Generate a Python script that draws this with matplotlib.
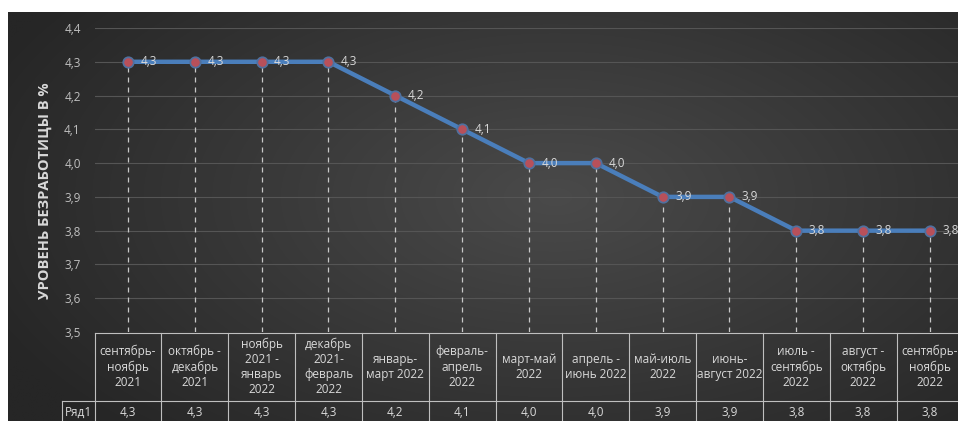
import numpy as np
import matplotlib
matplotlib.use("Agg")
import matplotlib.pyplot as plt
from matplotlib.lines import Line2D

categories = ["сентябрь-\nноябрь\n2021", "октябрь -\nдекабрь\n2021", "ноябрь\n2021 -\nянварь\n2022",
              "декабрь\n2021-\nфевраль\n2022", "январь-\nмарт 2022", "февраль-\nапрель\n2022",
              "март-май\n2022", "апрель -\nиюнь 2022", "май-июль\n2022", "июнь-\nавгуст 2022",
              "июль -\nсентябрь\n2022", "август -\nоктябрь\n2022", "сентябрь-\nноябрь\n2022"]
values = [4.3, 4.3, 4.3, 4.3, 4.2, 4.1, 4.0, 4.0, 3.9, 3.9, 3.8, 3.8, 3.8]
yticks = [3.5, 3.6, 3.7, 3.8, 3.9, 4.0, 4.1, 4.2, 4.3, 4.4]
series_name = "Ряд1"
ylabel = "УРОВЕНЬ БЕЗРАБОТИЦЫ В %"

W, H = 958, 421
plt.rcParams['font.family'] = ['Open Sans', 'DejaVu Sans']
fig = plt.figure(figsize=(W / 100, H / 100), dpi=100)
fig.patch.set_facecolor('white')

# background panel with radial gradient
bg = fig.add_axes([8 / W, 0, (W - 8) / W, (H - 12) / H])
bg.set_axis_off()
yy, xx = np.mgrid[0:200, 0:400]
cx, cy = 230, 90
d = np.sqrt(((xx - cx) / 260.0) ** 2 + ((yy - cy) / 160.0) ** 2)
d = np.clip(d, 0, 1)
c_in = np.array([0x4a, 0x4a, 0x4a]) / 255
c_out = np.array([0x26, 0x26, 0x26]) / 255
img = c_in[None, None, :] * (1 - d[..., None]) + c_out[None, None, :] * d[..., None]
bg.imshow(img, aspect='auto', extent=[0, 1, 0, 1], interpolation='bilinear')
bg.set_xlim(0, 1); bg.set_ylim(0, 1)

n = len(values)
cw = 66.83
left_px = 128.0 - cw / 2
right_px = left_px + n * cw
top_px, bot_px = 28.0, 332.0
ax = fig.add_axes([left_px / W, 1 - bot_px / H, (right_px - left_px) / W, (bot_px - top_px) / H])
ax.set_facecolor('none')
x = np.arange(n)
ax.set_xlim(-0.5, n - 0.5)
ax.set_ylim(3.5, 4.4)
for s in ax.spines.values():
    s.set_visible(False)
ax.set_yticks(yticks)
ax.set_yticklabels([f"{v:.1f}".replace('.', ',') for v in yticks], color='#bfbfbf', fontsize=8.5)
ax.tick_params(axis='y', length=0, pad=10)
ax.set_xticks([])
ax.grid(axis='y', color='#555555', linewidth=0.8)
ax.set_axisbelow(True)

# drop lines
for xi, v in zip(x, values):
    ax.plot([xi, xi], [3.5, v], color='#c8c8c8', linestyle=(0, (4, 4)), linewidth=0.9, zorder=2)

ax.plot(x, values, color='#4a7ebb', linewidth=3.2, zorder=3, solid_capstyle='round')
ax.plot(x, values, linestyle='none', marker='o', markersize=7.5, markerfacecolor='#b8505a',
        markeredgecolor='#50709e', markeredgewidth=1.3, zorder=4)
for xi, v in zip(x, values):
    ax.annotate(f"{v:.1f}".replace('.', ','), (xi, v), xytext=(9, 0), textcoords='offset points',
                va='center', ha='left', color='#d9d9d9', fontsize=8.5, zorder=5)

fig.text(45 / W, 1 - 191 / H, ylabel, rotation=90, ha='center', va='center', color='#d9d9d9',
         fontsize=10.5, fontweight='bold')

# data table below
lc = '#bfbfbf'
def px_line(x0, y0, x1, y1):
    fig.add_artist(Line2D([x0 / W, x1 / W], [1 - y0 / H, 1 - y1 / H], color=lc, linewidth=0.8))

tbl_top, row_split, tbl_bot = 333.0, 401.0, 425.0
px_line(left_px, tbl_top, right_px, tbl_top)
px_line(62, row_split, right_px, row_split)
px_line(62, row_split, 62, tbl_bot)
for i in range(n + 1):
    xb = left_px + i * cw
    px_line(xb, tbl_top, xb, tbl_bot)
for i, (cat, v) in enumerate(zip(categories, values)):
    xc = left_px + (i + 0.5) * cw
    fig.text(xc / W, 1 - (tbl_top + row_split) / 2 / H, cat, ha='center', va='center',
             color='#d9d9d9', fontsize=8.5, linespacing=1.2)
    fig.text(xc / W, 1 - 412 / H, f"{v:.1f}".replace('.', ','), ha='center', va='center',
             color='#d9d9d9', fontsize=8.5)
fig.text(78 / W, 1 - 412 / H, series_name, ha='center', va='center', color='#d9d9d9', fontsize=8.5)

fig.savefig('out.png', dpi=100)
